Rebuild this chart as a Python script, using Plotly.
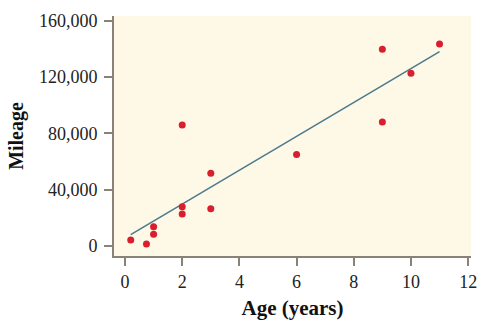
import numpy as np
import plotly.graph_objects as go

age = [0.2, 0.75, 1, 1, 2, 2, 2, 3, 3, 6, 9, 9, 10, 11]
mileage = [4300, 1400, 13700, 8300, 86000, 27900, 22700, 51600, 26500,
           65000, 139700, 88100, 122700, 143500]
x_ticks = [0, 2, 4, 6, 8, 10, 12]
y_ticks = [0, 40000, 80000, 120000, 160000]
y_tick_labels = ["0", "40,000", "80,000", "120,000", "160,000"]

slope, intercept = np.polyfit(age, mileage, 1)
line_x = [min(age), max(age)]
line_y = [intercept + slope * v for v in line_x]

serif = "Liberation Serif, Times New Roman, serif"
axis_col = "#8a8276"

fig = go.Figure()
fig.add_trace(go.Scatter(x=line_x, y=line_y, mode="lines",
                         line=dict(color="#4a7a8c", width=1.5), hoverinfo="skip"))
fig.add_trace(go.Scatter(x=age, y=mileage, mode="markers",
                         marker=dict(color="#d91e2e", size=7)))

fig.update_layout(
    width=495, height=328,
    margin=dict(l=114, r=24, t=16, b=72),
    paper_bgcolor="white", plot_bgcolor="#fef8e6",
    showlegend=False,
    font=dict(family=serif, color="#222"),
)
fig.update_xaxes(
    range=[-0.385, 12.1], tickvals=x_ticks, ticks="outside", ticklen=8,
    tickwidth=1.5, tickcolor=axis_col, showline=True, linecolor=axis_col,
    linewidth=2, showgrid=False, zeroline=False,
    tickfont=dict(size=18, family=serif, color="#222"),
    title=dict(text="<b>Age (years)</b>", font=dict(size=21, family=serif, color="#111"), standoff=10),
)
fig.update_yaxes(
    range=[-7100, 163400], tickvals=y_ticks, ticktext=y_tick_labels,
    ticks="outside", ticklen=8, tickwidth=1.5, tickcolor=axis_col,
    ticklabelstandoff=3,
    showline=True, linecolor=axis_col, linewidth=2, showgrid=False, zeroline=False,
    tickfont=dict(size=18, family=serif, color="#222"),
    title=dict(text="<b>Mileage</b>", font=dict(size=20, family=serif, color="#111"), standoff=10),
)
fig.write_html("out.html")
